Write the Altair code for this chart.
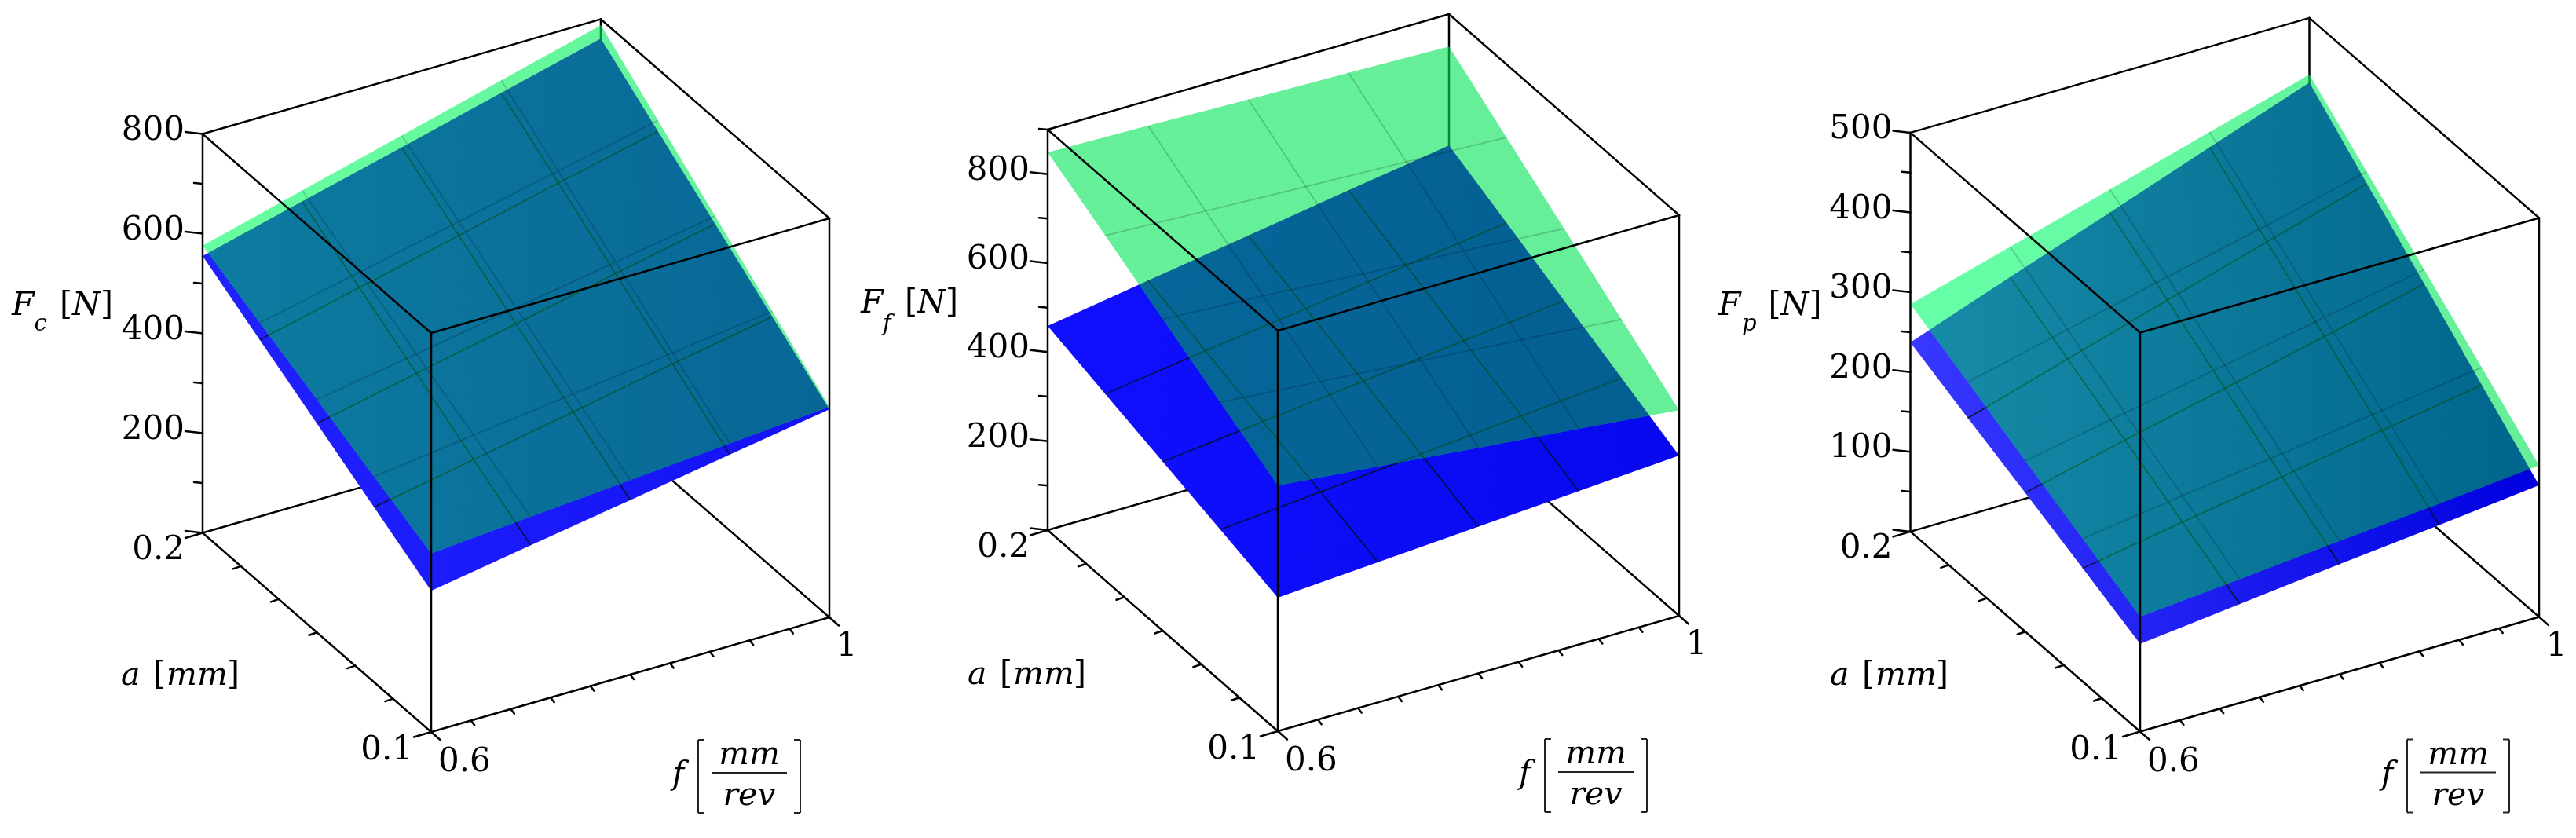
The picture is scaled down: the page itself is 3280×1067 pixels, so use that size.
import altair as alt

# f [mm/rev] and a [mm] sample positions of the surface grids
F_GRID = [0.6, 0.7, 0.8, 0.9, 1.0]
A_GRID = [0.1, 0.125, 0.15, 0.175, 0.2]

# Forces: rows follow A_GRID, columns follow F_GRID
FC_BLUE = [[283, 317, 350, 384, 417],
           [351, 389, 427, 466, 503],
           [419, 462, 504, 547, 589],
           [487, 534, 581, 629, 675],
           [555, 607, 658, 710, 761]]
FC_GREEN = [[358, 374, 390, 406, 422],
            [412, 438, 463, 488, 514],
            [467, 501, 536, 570, 605],
            [521, 565, 609, 653, 697],
            [576, 629, 682, 735, 788]]
FF_BLUE = [[300, 315, 330, 345, 360],
           [340, 360, 380, 401, 421],
           [380, 405, 431, 457, 482],
           [419, 451, 481, 513, 544],
           [459, 496, 532, 569, 605]]
FF_GREEN = [[552, 530, 507, 485, 462],
            [626, 608, 590, 572, 553],
            [700, 687, 672, 659, 644],
            [775, 765, 755, 746, 736],
            [849, 844, 838, 833, 827]]
FP_BLUE = [[110, 124, 138, 151, 165],
           [142, 164, 185, 207, 228],
           [174, 204, 233, 262, 292],
           [205, 243, 281, 318, 355],
           [237, 283, 328, 374, 419]]
FP_GREEN = [[144, 155, 167, 178, 190],
            [179, 197, 214, 232, 250],
            [214, 238, 262, 286, 310],
            [250, 280, 310, 339, 370],
            [285, 321, 357, 393, 429]]

F_MIN, F_MAX = 0.6, 1.0
A_MIN, A_MAX = 0.1, 0.2
F_MINOR = [0.64, 0.68, 0.72, 0.76, 0.8, 0.84, 0.88, 0.92, 0.96]
A_MINOR = [0.1167, 0.1333, 0.15, 0.1667, 0.1833]

FC_MAJOR, FC_MINOR, FC_TOP = [0, 200, 400, 600, 800], [100, 300, 500, 700], 800
FF_MAJOR, FF_MINOR, FF_TOP = [0, 200, 400, 600, 800], [100, 300, 500, 700, 900], 900
FP_MAJOR, FP_MINOR, FP_TOP = [0, 100, 200, 300, 400, 500], [50, 150, 250, 350, 450], 500

TOP, H = 8, 1040
LINE = "#000000"
BLUE_LINE = "#08301a"
NUM_FONT = "DejaVu Serif"
NUM_SIZE = 42
MATH_SIZE = 41
GREEN_ALPHA = 0.6


def gradient(c0, c1):
    return alt.LinearGradient(gradient="linear", x1=0, x2=1, y1=0, y2=0,
                              stops=[alt.GradientStop(offset=0, color=c0),
                                     alt.GradientStop(offset=1, color=c1)])


def perimeter(values):
    idx = [(i, 0) for i in range(5)] + [(4, j) for j in range(1, 5)] \
        + [(i, 4) for i in range(3, -1, -1)] + [(0, j) for j in range(3, 0, -1)]
    return [{"k": k, "f": F_GRID[i], "a": A_GRID[j], "F": values[j][i]}
            for k, (i, j) in enumerate(idx)]


def grid_rows(values):
    rows = []
    for i in range(1, 4):
        rows += [{"id": f"f{i}", "k": j, "f": F_GRID[i], "a": A_GRID[j], "F": values[j][i]} for j in range(5)]
    for j in range(1, 4):
        rows += [{"id": f"a{j}", "k": i, "f": F_GRID[i], "a": A_GRID[j], "F": values[j][i]} for i in range(5)]
    return rows


def seg(p, q, dx=0, dy=0):
    return {"f": p[0], "a": p[1], "F": p[2], "f2": q[0], "a2": q[1], "F2": q[2], "dx": dx, "dy": dy}


def panel(p):
    ox, oy = p["O"]
    dfx, dfy = p["df"]
    dax, day = p["da"]
    dz, top = p["dz"], p["top"]

    def proj(fk, ak, Fk):
        u = f"(datum.{fk}-{F_MIN})/{F_MAX - F_MIN}"
        v = f"(datum.{ak}-{A_MIN})/{A_MAX - A_MIN:.4f}"
        return (f"{ox}+{u}*({dfx})+{v}*({dax})",
                f"{oy}+{u}*({dfy})+{v}*({day})-datum.{Fk}/{top}*{dz}")

    xs = alt.Scale(domain=[p["x0"], p["x1"]], nice=False, zero=False)
    ys = alt.Scale(domain=[TOP + H, TOP], nice=False, zero=False)
    X = alt.X("px:Q", scale=xs, axis=None)
    Y = alt.Y("py:Q", scale=ys, axis=None)
    px, py = proj("f", "a", "F")
    px2, py2 = proj("f2", "a2", "F2")

    def rules(rows, width=2.5):
        return (alt.Chart(alt.Data(values=rows))
                .transform_calculate(px=px, py=py, px2=px2 + "+datum.dx", py2=py2 + "+datum.dy")
                .mark_rule(color=LINE, strokeWidth=width, strokeCap="round")
                .encode(x=X, y=Y, x2=alt.X2("px2"), y2=alt.Y2("py2")))

    def surface(values, fill, opacity=1.0, **kw):
        return (alt.Chart(alt.Data(values=perimeter(values)))
                .transform_calculate(px=px, py=py)
                .mark_line(filled=True, interpolate="linear-closed", fill=fill, fillOpacity=opacity,
                           strokeWidth=0, **kw)
                .encode(x=X, y=Y, order="k:Q"))

    def grid(values, color, opacity, width):
        return (alt.Chart(alt.Data(values=grid_rows(values)))
                .transform_calculate(px=px, py=py)
                .mark_line(color=color, opacity=opacity, strokeWidth=width)
                .encode(x=X, y=Y, detail="id:N", order="k:Q"))

    def texts(rows, font, size, style="normal", align="left", baseline="alphabetic"):
        return (alt.Chart(alt.Data(values=rows))
                .mark_text(font=font, fontSize=size, fontStyle=style, align=align, baseline=baseline, color="#000000")
                .encode(x=alt.X("px:Q", scale=xs, axis=None), y=alt.Y("py:Q", scale=ys, axis=None), text="t:N"))

    O0, R0 = (F_MIN, A_MIN), (F_MAX, A_MIN)
    L0, B0 = (F_MIN, A_MAX), (F_MAX, A_MAX)
    lo = lambda c: (c[0], c[1], 0)
    hi = lambda c: (c[0], c[1], top)

    back = [seg(lo(L0), lo(B0)), seg(lo(B0), lo(R0)), seg(lo(B0), hi(B0))]
    front = [seg(lo(L0), hi(L0)), seg(lo(O0), hi(O0)), seg(lo(R0), hi(R0)),
             seg(lo(L0), lo(O0)), seg(lo(O0), lo(R0)),
             seg(hi(L0), hi(O0)), seg(hi(O0), hi(R0)), seg(hi(L0), hi(B0)), seg(hi(B0), hi(R0))]

    ticks = []
    for v in p["major"]:
        ticks.append(seg((F_MIN, A_MAX, v), (F_MIN, A_MAX, v), -22, -2.5))
    for v in p["minor"]:
        ticks.append(seg((F_MIN, A_MAX, v), (F_MIN, A_MAX, v), -11, -1))
    for a in (A_MIN, A_MAX):
        ticks.append(seg((F_MIN, a, 0), (F_MIN, a, 0), -22, 6.5))
    for a in A_MINOR:
        ticks.append(seg((F_MIN, a, 0), (F_MIN, a, 0), -10, 3.5))
    for f in (F_MIN, F_MAX):
        ticks.append(seg((f, A_MIN, 0), (f, A_MIN, 0), 12, 10.5))
    for f in F_MINOR:
        ticks.append(seg((f, A_MIN, 0), (f, A_MIN, 0), 4.5, 6))

    lx, ly = ox + dax, oy + day
    rx, ry = ox + dfx, oy + dfy
    nums = [{"px": lx - 23, "py": ly - v / top * dz - 6, "t": str(v)} for v in p["major"] if v > 0]
    nums_r = nums + [{"px": lx - 23, "py": ly + 20.5, "t": "0.2"}, {"px": ox - 23, "py": oy + 22, "t": "0.1"}]
    nums_l = [{"px": ox + 9, "py": oy + 37, "t": "0.6"}]
    nums_c = [{"px": rx + 22, "py": ry + 36, "t": "1"}]

    italics = [{"px": p["Fx"], "py": p["Fy"], "t": "F"},
               {"px": p["Nx"] + 16, "py": p["Fy"], "t": "N"},
               {"px": ox - 395, "py": oy - 60, "t": "a"},
               {"px": ox - 337, "py": oy - 60, "t": "mm"},
               {"px": ox + 307, "py": oy + 66, "t": "f"}]
    sub = [{"px": p["subx"], "py": 421, "t": p["sub"]}]
    frac = [{"px": ox + 405, "py": oy + 41, "t": "mm"}, {"px": ox + 405, "py": oy + 93, "t": "rev"}]
    br_l = [{"px": p["Nx"], "py": p["Fy"], "t": "["}, {"px": ox - 354, "py": oy - 60, "t": "["}]
    br_r = [{"px": p["Nx"] + 68, "py": p["Fy"], "t": "]"}, {"px": ox - 244, "py": oy - 60, "t": "]"}]

    # Large brackets and fraction bar of the f axis title
    bx0, bx1, by0, by1 = ox + 340, ox + 470, oy + 10, oy + 103
    raw = [(bx0, by0, bx0, by1), (bx0, by0, bx0 + 8, by0), (bx0, by1, bx0 + 8, by1),
           (bx1, by0, bx1, by1), (bx1, by0, bx1 - 8, by0), (bx1, by1, bx1 - 8, by1),
           (ox + 357, oy + 52, ox + 453, oy + 52)]
    marks = (alt.Chart(alt.Data(values=[{"px": a, "py": b, "qx": c, "qy": d} for a, b, c, d in raw]))
             .mark_rule(color="#222222", strokeWidth=2)
             .encode(x=X, y=Y, x2=alt.X2("qx"), y2=alt.Y2("qy")))

    return alt.layer(
        rules(back),
        surface(p["blue"], gradient(*p["blue_c"])),
        grid(p["blue"], LINE, 0.7, 1.5),
        surface(p["green"], gradient(*p["green_c"]), GREEN_ALPHA),
        # Deepens the teal where the translucent sheet lies over the blue one
        surface(p["blue"], gradient(*p["teal_c"]), blend="darken"),
        grid(p["green"], LINE, 0.18, 1.8),
        grid(p["blue"], BLUE_LINE, 0.3, 1.5),
        rules(front),
        rules(ticks),
        texts(nums_r, NUM_FONT, NUM_SIZE, align="right", baseline="middle"),
        texts(nums_l, NUM_FONT, NUM_SIZE, align="left", baseline="middle"),
        texts(nums_c, NUM_FONT, NUM_SIZE, align="center", baseline="middle"),
        texts(italics, NUM_FONT, MATH_SIZE, style="italic"),
        texts(sub, NUM_FONT, 29, style="italic"),
        texts(frac, NUM_FONT, MATH_SIZE, style="italic", align="center"),
        texts(br_l, NUM_FONT, MATH_SIZE),
        texts(br_r, NUM_FONT, MATH_SIZE, align="right"),
        marks,
    ).properties(width=p["x1"] - p["x0"], height=H)


PANELS = [
    dict(x0=8, x1=1093, O=(549, 932), df=(507, -146), da=(-291, -253.5), dz=508, top=FC_TOP,
         major=FC_MAJOR, minor=FC_MINOR, blue=FC_BLUE, green=FC_GREEN,
         blue_c=("#2222ff", "#1212f4"), green_c=("#00ff61", "#00e657"), teal_c=("#ff7cff", "#ff66ff"),
         Fx=15, Fy=401, sub="c", subx=43.5, Nx=76),
    dict(x0=1093, x1=2185, O=(1627, 931), df=(511, -147), da=(-293, -256), dz=510, top=FF_TOP,
         major=FF_MAJOR, minor=FF_MINOR, blue=FF_BLUE, green=FF_GREEN,
         blue_c=("#1010ff", "#0808ee"), green_c=("#00e657", "#00e353"), teal_c=("#ff68ff", "#ff5eff"),
         Fx=1096, Fy=398, sub="f", subx=1124, Nx=1152),
    dict(x0=2185, x1=3272, O=(2725, 931.5), df=(508, -146), da=(-292.5, -254.6), dz=508, top=FP_TOP,
         major=FP_MAJOR, minor=FP_MINOR, blue=FP_BLUE, green=FP_GREEN,
         blue_c=("#3838ff", "#0000e0"), green_c=("#00ff6e", "#00e353"), teal_c=("#ff8cff", "#ff64ff"),
         Fx=2188, Fy=401, sub="p", subx=2218, Nx=2251.5),
]

chart = (alt.hconcat(*[panel(p) for p in PANELS], spacing=0)
         .properties(padding=0, background="white", bounds="flush")
         .configure_view(stroke=None))

chart.save("out.html", embed_options={"renderer": "svg", "actions": False})
